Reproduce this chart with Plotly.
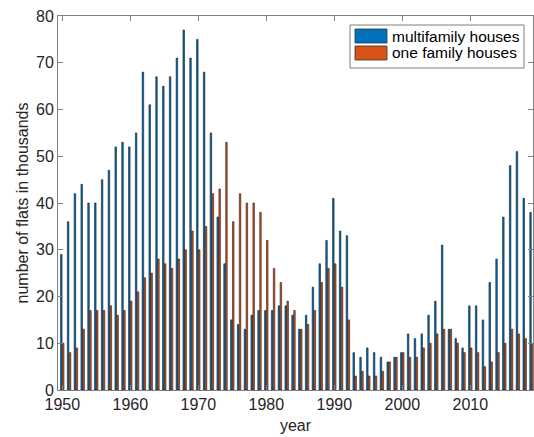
import plotly.graph_objects as go

years = list(range(1950, 2020))

multifamily = [29, 36, 42, 44, 40, 40, 45, 47, 52, 53,
               52, 55, 68, 61, 67, 65, 67, 71, 77, 71,
               75, 68, 55, 37, 27, 15, 14, 13, 16, 17,
               17, 17, 18, 18, 16, 13, 16, 22, 27, 32,
               41, 34, 33, 8, 7, 9, 8, 7, 6, 7,
               8, 12, 11, 12, 16, 19, 31, 13, 11, 9,
               18, 18, 15, 23, 28, 37, 48, 51, 41, 38]

one_family = [10, 8, 9, 13, 17, 17, 17, 18, 16, 17,
              19, 21, 24, 25, 28, 27, 26, 28, 30, 34,
              30, 35, 42, 43, 53, 36, 42, 40, 40, 38,
              32, 26, 23, 19, 17, 13, 14, 17, 23, 26,
              27, 22, 15, 3, 4, 3, 3, 4, 6, 7,
              8, 7, 7, 9, 10, 12, 13, 13, 10, 8,
              9, 8, 5, 6, 8, 10, 13, 12, 11, 10]

series_names = ["multifamily houses", "one family houses"]
colors = ["#0072BD", "#D95319"]

fig = go.Figure()
for name, vals, col in zip(series_names, [multifamily, one_family], colors):
    fig.add_trace(go.Bar(x=years, y=vals, name=name,
                         marker=dict(color=col, line=dict(color="black", width=0.5)),
                         showlegend=False))

# plot area pixel geometry
L, R, T, B = 58, 533, 16, 390
W, H = R - L, B - T
def px(x): return (x - L) / W
def py(y): return (B - y) / H

shapes = [
    dict(type="rect", xref="paper", yref="paper", x0=px(350), x1=px(524), y0=py(68), y1=py(25),
         line=dict(color="#7f7f7f", width=1), fillcolor="white"),
]
annotations = []
rows = [(29, 43), (46, 60)]
for (y0, y1), col, name in zip(rows, colors, series_names):
    shapes.append(dict(type="rect", xref="paper", yref="paper", x0=px(355), x1=px(387), y0=py(y1), y1=py(y0),
                       line=dict(color="#333333", width=0.8), fillcolor=col))
    annotations.append(dict(xref="paper", yref="paper", x=px(390), y=py((y0 + y1) / 2), text=name,
                            showarrow=False, xanchor="left", yanchor="middle",
                            font=dict(size=15.5, color="black")))

font_fam = "Liberation Sans, Arial, Helvetica, sans-serif"
fig.update_layout(
    width=534, height=437,
    margin=dict(l=L, r=534 - R, t=T, b=437 - B, autoexpand=False),
    paper_bgcolor="white", plot_bgcolor="white",
    barmode="group", bargap=0.43, bargroupgap=0.2,
    font=dict(family=font_fam, size=16, color="#262626"),
    shapes=shapes, annotations=annotations,
)
fig.update_xaxes(range=[1949.37, 2019.22], tickvals=[1950, 1960, 1970, 1980, 1990, 2000, 2010],
                 ticks="inside", ticklen=5, tickcolor="#7f7f7f", showline=True, linecolor="#7f7f7f",
                 linewidth=1, mirror="ticks", showgrid=False, zeroline=False, automargin=False,
                 title=dict(text="year", standoff=7, font=dict(size=16)), tickfont=dict(size=16))
fig.update_yaxes(range=[0, 80], tickvals=list(range(0, 81, 10)),
                 ticks="inside", ticklen=5, tickcolor="#7f7f7f", showline=True, linecolor="#7f7f7f",
                 linewidth=1, mirror="ticks", showgrid=False, zeroline=False, automargin=False,
                 title=dict(text="number of flats in thousands", standoff=3, font=dict(size=16)),
                 tickfont=dict(size=16))

fig.write_html("out.html", config={"displayModeBar": False},
               post_script="document.body.style.margin='0px';")
